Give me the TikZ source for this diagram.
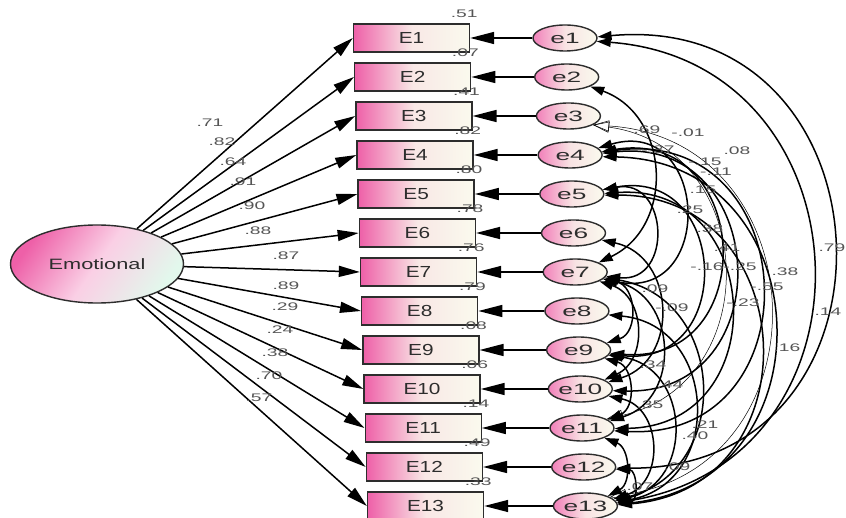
\documentclass[tikz,border=0pt]{standalone}
\usepackage{fontspec}
\setmainfont{Liberation Sans}
\newfontfamily\boxfont[FakeStretch=1.3]{Liberation Sans}
\newfontfamily\errfont[FakeStretch=1.75]{Liberation Sans}
\newfontfamily\emofont[FakeStretch=1.45]{Liberation Sans}
\newfontfamily\numfont[FakeStretch=1.75]{Liberation Sans}
\usetikzlibrary{arrows.meta}
\usetikzlibrary{shapes.geometric}

\definecolor{boxpink}{RGB}{238,96,168}
\definecolor{boxcream}{RGB}{250,250,238}
\definecolor{emomint}{RGB}{226,248,236}
\definecolor{inkgray}{RGB}{45,45,45}
\definecolor{numgray}{RGB}{85,85,85}

\tikzset{
  obsbox/.style={draw=inkgray, line width=1.4pt, minimum width=116pt, minimum height=28pt,
    inner sep=0pt, left color=boxpink, right color=boxcream, middle color=boxcream!88!boxpink,
    font=\boxfont\fontsize{16}{16}\selectfont, text=inkgray},
  errell/.style={ellipse, draw=inkgray, line width=1.4pt, minimum width=64pt, minimum height=26pt,
    inner sep=0pt, left color=boxpink!80, right color=boxcream, middle color=boxcream!85!boxpink,
    font=\errfont\fontsize{15}{15}\selectfont, text=inkgray},
  latent/.style={ellipse, draw=inkgray, line width=1.4pt, minimum width=173pt, minimum height=78pt,
    inner sep=0pt, top color=boxpink, bottom color=emomint, middle color=boxpink!30!white,
    shading angle=55, font=\emofont\fontsize{15}{15}\selectfont, text=inkgray},
  loadarrow/.style={line width=1.5pt, -{Triangle[length=21pt,width=11pt]}},
  errarrow/.style={line width=1.5pt, -{Triangle[length=24pt,width=12pt]}},
  covarc/.style={line width=1.5pt, {Triangle[length=14pt,width=9pt]}-{Triangle[length=14pt,width=9pt]}},
  covthin/.style={line width=0.5pt, {Triangle[open,length=16pt,width=11pt]}-{Triangle[open,length=16pt,width=11pt]}},
  num/.style={font=\numfont\fontsize{11}{11}\selectfont, text=numgray, inner sep=0pt}
}

\begin{document}
\begin{tikzpicture}[x=1pt, y=-1pt]
  \fill[white] (0,0) rectangle (846,518);
  \useasboundingbox (0,0) rectangle (846,518);

  \node[latent] (emo) at (97,264) {Emotional};

  % indicators, their errors and the loadings / squared multiple correlations
  \foreach \i/\ld/\lx/\ly/\rsq in {1/.71/210/123/.51, 2/.82/222/142/.07, 3/.64/233/162/.41,
      4/.91/243/182/.82, 5/.90/252/206/.80, 6/.88/258/231/.78, 7/.87/286/256/.76,
      8/.89/286/286/.79, 9/.29/285/307/.08, 10/.24/280/330/.06, 11/.38/275/353/.14,
      12/.70/269/376/.49, 13/.57/259/398/.33}
  {
    \pgfmathsetmacro\ry{38+(\i-1)*39}
    \pgfmathsetmacro\bx{411.5+(\i-1)*1.17}
    \pgfmathsetmacro\ex{565+(\i-1)*1.7}
    \node[obsbox] (E\i) at (\bx,\ry) {E\i};
    \node[errell] (e\i) at (\ex,\ry) {e\i};
    \draw[loadarrow] (emo) -- (E\i.west);
    \draw[errarrow] (e\i) -- (E\i.east);
    \node[num] (l\i) at (\lx,\ly) {\ld};
    \node[num] (r\i) at ([xshift=-6pt,yshift=10pt]E\i.north east) {\rsq};
  }

  % error covariances (i/j/bulge)
  \foreach \i/\j/\b in {1/12/225, 1/13/208, 2/7/65, 4/13/165, 4/11/150, 4/9/110, 4/7/75,
      4/10/125, 5/13/150, 5/11/120, 5/9/90, 5/7/45, 6/10/60, 7/11/60, 7/13/95, 7/9/30,
      8/13/85, 9/13/65, 9/11/28, 10/13/45, 11/13/25, 12/13/18, 7/10/40}
  {
    \pgfmathsetmacro\d{(\j-\i)*39}
    \pgfmathsetmacro\al{2*atan(2*\b/\d)}
    \pgfmathsetmacro\lo{1.703*tan(\al/2)/sin(\al)}
    \pgfmathtruncatemacro\ao{\al-90}
    \pgfmathtruncatemacro\ai{90-\al}
    \draw[covarc] (e\i.\ao) to[bend left=\al, looseness=\lo] (e\j.\ai);
  }
  \foreach \i/\j/\b in {3/11/130, 3/13/175}
  {
    \pgfmathsetmacro\d{(\j-\i)*39}
    \pgfmathsetmacro\al{2*atan(2*\b/\d)}
    \pgfmathsetmacro\lo{1.703*tan(\al/2)/sin(\al)}
    \draw[covthin] (e\i.-20) to[bend left=\al, looseness=\lo] (e\j.20);
  }

  % covariance values
  \foreach \n/\cx/\cy/\cv in {1/647/130/.69, 2/688/133/-.01, 3/737/151/.08, 4/658/150/-.37,
      5/705/162/-.15, 6/716/172/-.11, 7/703/190/.15, 8/690/210/.25, 9/710/229/.38,
      10/727/248/.41, 11/707/267/-.16, 12/740/267/-.25, 13/785/272/.38, 14/767/287/-.55,
      15/743/303/-.23, 16/832/248/.79, 17/828/312/.14, 18/787/348/.16, 19/655/289/.09,
      20/672/308/-.09, 21/653/365/.34, 22/670/385/.44, 23/650/405/.35, 24/705/425/.21,
      25/695/436/.40, 26/677/467/.09, 27/640/487/.07}
  {
    \node[num] (c\n) at (\cx,\cy) {\cv};
  }
\end{tikzpicture}
\end{document}
